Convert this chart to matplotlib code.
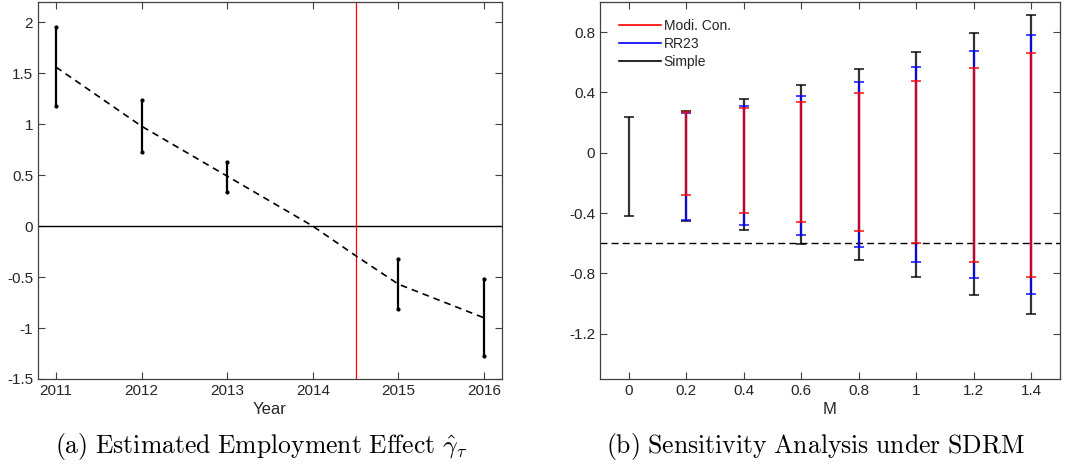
import matplotlib
matplotlib.use("Agg")
import matplotlib.pyplot as plt
import numpy as np

plt.rcParams['font.family'] = ['Liberation Sans', 'DejaVu Sans']
plt.rcParams['mathtext.fontset'] = 'cm'

# panel (a): employment effect by year
years = [2011, 2012, 2013, 2015, 2016]
ci_hi = [1.95, 1.24, 0.63, -0.32, -0.52]
ci_lo = [1.18, 0.73, 0.33, -0.81, -1.27]
trend_x = [2011, 2012, 2013, 2014, 2014.5, 2015, 2016]
trend_y = [1.56, 0.98, 0.49, 0.0, -0.29, -0.57, -0.90]
year_ticks = [2011, 2012, 2013, 2014, 2015, 2016]

# panel (b): sensitivity analysis
M = [0, 0.2, 0.4, 0.6, 0.8, 1.0, 1.2, 1.4]
simple_lo = [-0.42, -0.455, -0.515, -0.606, -0.712, -0.825, -0.945, -1.067]
simple_hi = [0.239, 0.279, 0.354, 0.447, 0.554, 0.669, 0.791, 0.913]
M2 = [0.2, 0.4, 0.6, 0.8, 1.0, 1.2, 1.4]
rr_lo = [-0.446, -0.479, -0.544, -0.626, -0.725, -0.832, -0.936]
rr_hi = [0.263, 0.312, 0.379, 0.47, 0.567, 0.674, 0.778]
modi_lo = [-0.278, -0.40, -0.46, -0.522, -0.597, -0.725, -0.823]
modi_hi = [0.272, 0.294, 0.334, 0.399, 0.476, 0.563, 0.66]
threshold = -0.6

fig = plt.figure(figsize=(10.83, 4.65), dpi=100)
ax1 = fig.add_axes([0.0351, 0.185, 0.4284, 0.811])
ax2 = fig.add_axes([0.554, 0.185, 0.4247, 0.811])

axcol = '#262626'
for ax in (ax1, ax2):
    for s in ax.spines.values():
        s.set_color('#404040')
        s.set_linewidth(0.9)
    ax.tick_params(direction='in', length=5, width=0.8, color='#404040',
                   labelcolor=axcol, labelsize=11, top=True, right=True)

# ---- (a)
ax1.axhline(0, color='k', lw=1)
ax1.axvline(2014.5, color='red', lw=0.9)
ax1.plot(trend_x, trend_y, 'k--', lw=1.2, dashes=(4, 3))
for x, lo, hi in zip(years, ci_lo, ci_hi):
    ax1.plot([x, x], [lo, hi], 'k-', lw=1.6, marker='.', markersize=4)
ax1.set_xlim(2010.79, 2016.21)
ax1.set_ylim(-1.5, 2.2)
ax1.set_xticks(year_ticks)
ax1.set_yticks([-1.5, -1, -0.5, 0, 0.5, 1, 1.5, 2])
ax1.set_yticklabels(['-1.5', '-1', '-0.5', '0', '0.5', '1', '1.5', '2'])
ax1.set_xlabel('Year', fontsize=12, color=axcol, labelpad=3)

# ---- (b)
def draw(ax, x, lo, hi, col):
    lo = np.array(lo)
    hi = np.array(hi)
    mid = (lo + hi) / 2
    ax.errorbar(x, mid, yerr=[mid - lo, hi - mid], fmt='none', ecolor=col,
                elinewidth=1.6, capsize=3.5, capthick=1.3, alpha=0.8)

ax2.axhline(threshold, color='k', lw=1, dashes=(5, 3))
draw(ax2, M, simple_lo, simple_hi, 'black')
draw(ax2, M2, rr_lo, rr_hi, 'blue')
draw(ax2, M2, modi_lo, modi_hi, 'red')
ax2.plot([], [], color='red', lw=1.2, label='Modi. Con.')
ax2.plot([], [], color='blue', lw=1.2, label='RR23')
ax2.plot([], [], color='black', lw=1.2, label='Simple')
ax2.legend(loc='upper left', bbox_to_anchor=(0.018, 0.985), frameon=False,
           fontsize=10, handlelength=3.0, handletextpad=0.2,
           labelspacing=0.3, borderaxespad=0.4, labelcolor=axcol)
ax2.set_xlim(-0.1, 1.5)
ax2.set_ylim(-1.5, 1.0)
ax2.set_xticks(M)
ax2.set_xticklabels(['0', '0.2', '0.4', '0.6', '0.8', '1', '1.2', '1.4'])
ax2.set_yticks([-1.2, -0.8, -0.4, 0, 0.4, 0.8])
ax2.set_yticklabels(['-1.2', '-0.8', '-0.4', '0', '0.4', '0.8'])
ax2.set_xlabel('M', fontsize=12, color=axcol, labelpad=3)

fig.text(0.2418, 0.039, r'$\mathrm{(a)\ Estimated\ Employment\ Effect}\ \hat{\gamma}_{\tau}$',
         ha='center', va='center', fontsize=18.5)
fig.text(0.7526, 0.039, r'$\mathrm{(b)\ Sensitivity\ Analysis\ under\ SDRM}$',
         ha='center', va='center', fontsize=18.5)

fig.savefig('out.png', dpi=100)
